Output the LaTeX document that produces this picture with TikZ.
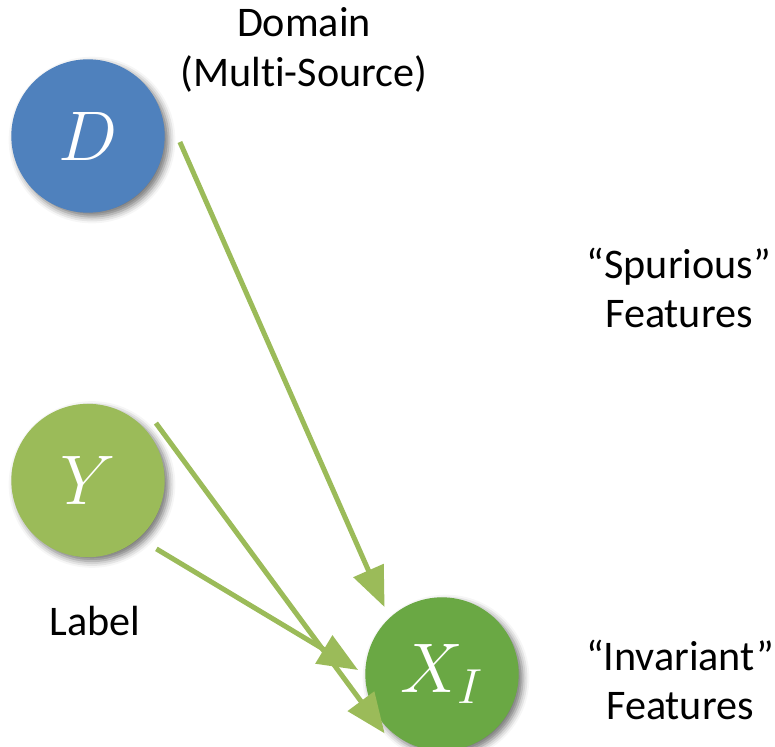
\RequirePackage{fix-cm}
\documentclass[tikz,border=0pt]{standalone}
\usepackage{fontspec}
\setmainfont{Carlito}[Ligatures={TeX,NoCommon}]
\usepackage{xcolor}
\usetikzlibrary{positioning,arrows.meta,calc,shadows.blur}

\definecolor{domainblue}{HTML}{4F81BD}
\definecolor{labelgreen}{HTML}{9BBB59}
\definecolor{featgreen}{HTML}{6AA844}

\begin{document}
\begin{tikzpicture}[
    x=0.03cm,
    y=-0.03cm,
    >={Triangle[length=1.2cm, width=0.96cm]},
    font=\fontsize{36}{42}\selectfont,
    every node/.style={align=center},
    var/.style={
        circle,
        minimum size=4.6cm,
        inner sep=0pt,
        text=white,
        font=\fontsize{60}{60}\selectfont,
        blur shadow={shadow xshift=0.12cm, shadow yshift=-0.12cm,
                     shadow blur radius=0.2cm, shadow opacity=55}
    },
    link/.style={->, draw=labelgreen, line width=0.15cm,
        preaction={draw=black, draw opacity=0.12,
                   transform canvas={shift={(1.5pt,-1.5pt)}}}}
]

\useasboundingbox (0,0) rectangle (775,746);

% Variables
\node[var, fill=domainblue] (D) at (88,136) {$D$};
\node[var, fill=labelgreen, below=5.72cm of D] (Y) {$Y$};
\node[var, fill=featgreen] (XI) at (442,674) {$X_I$};

% Captions
\node (domtext) at (304,50) {Domain\\(Multi-Source)};
\node (labtext) at (95,621) {Label};
\node (spurtext) at (679,288) {“Spurious”\\Features};
\node (invtext) at (680,680) {“Invariant”\\Features};

% Arrows into X_I
\draw[link] ($(D.east)+(15,6)$) -- ($(XI.130)+(-8,-8)$);
\draw[link] ($(Y.40)+(9,-8)$) -- ($(XI.225)+(-3,5)$);
\draw[link] ($(Y.-45)+(14,14)$) -- ($(XI.west)+(-7,-4)$);

\end{tikzpicture}
\end{document}
